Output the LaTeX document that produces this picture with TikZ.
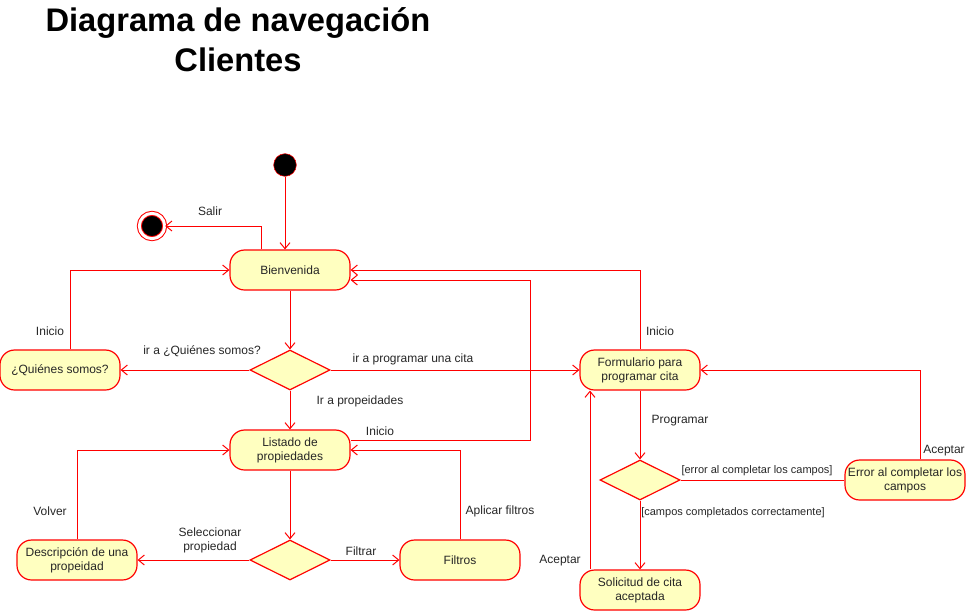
\documentclass[tikz,border=0pt]{standalone}
\usepackage{fontspec}
\setmainfont{Liberation Sans}
\usetikzlibrary{shapes.geometric, arrows.meta, calc}
\definecolor{umlfill}{HTML}{FFFFC0}

\begin{document}
\begin{tikzpicture}[
  x=0.75pt, y=-0.75pt,
  every node/.style={text=black!85, font=\fontsize{9}{10.5}\selectfont},
  state/.style={rectangle, rounded corners=11pt, draw=red, fill=umlfill, line width=0.9pt,
                minimum width=90pt, minimum height=30pt, inner xsep=1pt, align=center},
  choice/.style={diamond, aspect=2, draw=red, fill=umlfill, line width=0.9pt,
                 minimum width=60pt, minimum height=30pt, inner sep=0pt},
  arr/.style={draw=red, line width=0.75pt, -{Straight Barb[length=4.5pt,width=7.5pt]}},
  small/.style={font=\fontsize{8.25}{10}\selectfont}
]
\useasboundingbox (0,0) rectangle (966,611);

\node (titulo) [text=black, align=center, font=\fontsize{24.5}{30}\selectfont\bfseries]
  at (238,40) {Diagrama de navegación\\Clientes};

\node (ini) [circle, fill=black, draw=red, minimum size=17pt, inner sep=0pt] at (285,165) {}; % start
\node (fin) [circle, fill=black, draw=red, line width=0.75pt, double=white, double distance=2.25pt,
             minimum size=19pt, inner sep=0pt] at (152,226) {};                            % end

\node (bien)  [state]  at (290,270) {Bienvenida};
\node (d1)    [choice] at (290,370) {};
\node (quien) [state]  at (60,370)  {¿Quiénes somos?};
\node (form)  [state]  at (640,370) {Formulario para\\programar cita};
\node (list)  [state]  at (290,450) {Listado de\\propiedades};
\node (d2)    [choice] at (290,560) {};
\node (desc)  [state]  at (77,560)  {Descripción de una\\propeidad};
\node (filt)  [state]  at (460,560) {Filtros};
\node (d3)    [choice] at (640,480) {};
\node (sol)   [state]  at (640,590) {Solicitud de cita\\aceptada};
\node (err)   [state]  at (905,480) {Error al completar los\\campos};

% labels
\node (lsalir)  at (210,211) {Salir};
\node (lquien)  at (202,351) {ir a ¿Quiénes somos?};
\node (linq)    at (50,331)  {Inicio};
\node (lcita)   at (413,359) {ir a programar una cita};
\node (linf)    at (660,331) {Inicio};
\node (lprop)   at (360,401) {Ir a propeidades};
\node (linl)    at (380,431) {Inicio};
\node (lsel) [align=center] at (210,540) {Seleccionar\\propiedad};
\node (lfilt)   at (361,551) {Filtrar};
\node (lvolver) at (50,511)  {Volver};
\node (lapl)    at (500,511) {Aplicar filtros};
\node (lprog)   at (680,421) {Programar};
\node (lerr)  [small] at (757,471) {[error al completar los campos]};
\node (lok)   [small] at (733,513) {[campos completados correctamente]};
\node (lacs)    at (560,561) {Aceptar};
\node (lace)    at (944,451) {Aceptar};

\draw[arr] (ini) -- (ini |- bien.north);
\draw[arr] ($(bien.north)+(-29,0)$) |- (fin);
\draw[arr] (bien) -- (d1);
\draw[arr] (d1) -- (quien);
\draw[arr] (d1) -- (form);
\draw[arr] (d1) -- (list);
\draw[arr] ($(quien.north)+(10,0)$) |- (bien.west);
\draw[arr] (form.north) |- (bien.east);
\draw[arr] ($(list.east)+(0,-10)$) -| ($(bien.east)+(180,10)$) -- ($(bien.east)+(0,10)$);

\draw[arr] (list) -- (d2);
\draw[arr] (d2) -- (desc);
\draw[arr] (d2) -- (filt);
\draw[arr] (desc.north) |- (list.west);
\draw[arr] (filt.north) |- (list.east);

\draw[arr] (form) -- (d3);
\draw[arr] (d3) -- (sol);
\draw[red, line width=0.75pt] (d3.east) -- (err.west);   % no tip
\draw[arr] ($(sol.north)+(-50,0)$) -- ($(form.south)+(-50,0)$);
\draw[arr] ($(err.north)+(15,0)$) |- (form.east);
\end{tikzpicture}
\end{document}
